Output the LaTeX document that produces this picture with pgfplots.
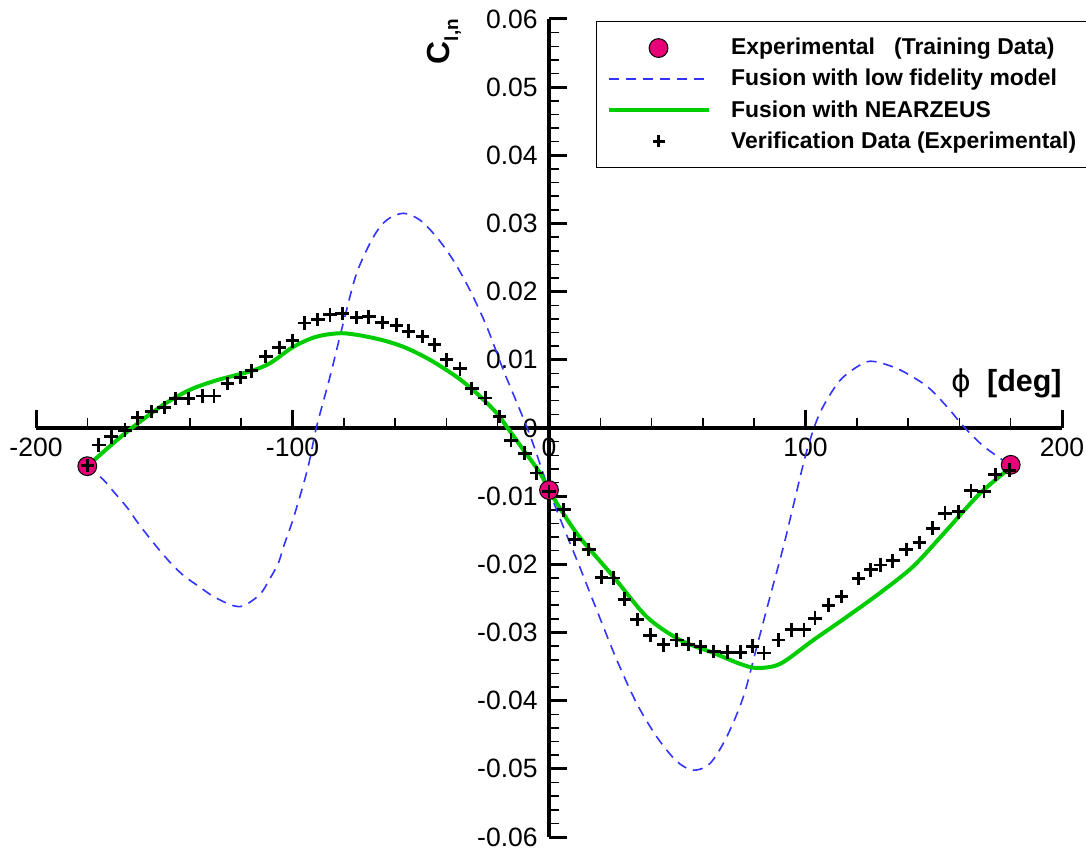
\documentclass[border=0pt]{standalone}
\usepackage{pgfplots}
\pgfplotsset{compat=1.18}
\usepackage{fontspec}
\setmainfont{Liberation Sans}
\newfontfamily\dejavu{DejaVu Sans}

\definecolor{trainpink}{RGB}{232,0,120}
\definecolor{fusgreen}{RGB}{0,204,0}
\definecolor{fusblue}{RGB}{51,51,255}

\pgfplotsset{
    leg line/.style={legend image code/.code={\draw[##1] (0bp,0bp) -- (50bp,0bp);}},
    leg mark/.style={legend image code/.code={\draw[##1] plot coordinates {(25bp,0bp)};}},
}

\begin{document}
\begin{tikzpicture}
\begin{axis}[
    name=ax,
    scale only axis,
    width=513bp, height=409bp,
    xmin=-200, xmax=200,
    ymin=-0.06, ymax=0.06,
    axis lines=middle,
    axis line style={-, line width=1.75bp},
    xtick={-200,-100,0,100,200},
    xticklabels={-200,-100,0,100,200},
    ytick={-0.06,-0.05,-0.04,-0.03,-0.02,-0.01,0,0.01,0.02,0.03,0.04,0.05,0.06},
    yticklabels={-0.06,-0.05,-0.04,-0.03,-0.02,-0.01,0,0.01,0.02,0.03,0.04,0.05,0.06},
    minor x tick num=4,
    minor y tick num=4,
    tick align=inside,
    major tick length=9bp,
    minor tick length=5bp,
    every major tick/.append style={line width=1.5bp, black},
    every minor tick/.append style={line width=0.75bp, black},
    hide obscured x ticks=false,
    hide obscured y ticks=false,
    ticklabel style={font=\fontsize{13.3}{16}\selectfont},
    xticklabel style={anchor=north, inner sep=0pt, yshift=-5bp},
    yticklabel style={anchor=east, inner sep=0pt, xshift=-5.5bp},
    clip=false,
    legend cell align=left,
    legend style={
        at={(axis cs:18.3,0.0597)}, anchor=north west,
        draw=black, line width=0.6bp, fill=white,
        font=\fontsize{11.5}{13}\selectfont\bfseries,
        inner xsep=5bp, inner ysep=7.5bp,
        row sep=4.15bp, column sep=9.5bp,
        nodes={inner sep=0.8bp},
    },
]

% legend entries first, curves drawn afterwards in the original stacking order
\addlegendimage{only marks, mark=*, mark size=4.7bp,
    mark options={fill=trainpink, draw=black, line width=0.5bp}, leg mark}
\addlegendentry{Experimental\ \ \ (Training Data)}
\addlegendimage{fusblue, line width=0.8bp, dash pattern=on 5bp off 3.5bp, leg line}
\addlegendentry{Fusion with low fidelity model}
\addlegendimage{fusgreen, line width=2bp, leg line}
\addlegendentry{Fusion with NEARZEUS}
\addlegendimage{only marks, mark=+, mark size=3bp, black, line width=1.4bp, leg mark}
\addlegendentry{Verification Data (Experimental)}

% low fidelity fusion
\addplot[forget plot, fusblue, line width=0.8bp, dash pattern=on 5bp off 3.5bp, smooth] coordinates {
    (-180,-0.0055) (-173.7,-0.0076) (-169.6,-0.0094) (-164.6,-0.0116) (-160.5,-0.0138)
    (-156.2,-0.0159) (-151.9,-0.0179) (-147.5,-0.0198) (-142.6,-0.0216) (-136.7,-0.0232)
    (-130.9,-0.0247) (-124.4,-0.0259) (-120.5,-0.0262) (-117.6,-0.0258) (-112.4,-0.0243)
    (-108.5,-0.0219) (-105.5,-0.0198) (-103.3,-0.0172) (-100.3,-0.0140) (-98.1,-0.0113)
    (-95.1,-0.0074) (-93.2,-0.0045) (-90.6,0.0002) (-85.4,0.0075) (-80.2,0.0154)
    (-75,0.0227) (-68.5,0.0280) (-63.3,0.0305) (-56.8,0.0315) (-50.3,0.0305)
    (-43.8,0.0280) (-37.3,0.0246) (-30.8,0.0202) (-24.3,0.0149) (-17.8,0.0085)
    (-11.3,0.0026) (-6.7,-0.0018) (0,-0.0091) (5.6,-0.0145) (12.1,-0.0205)
    (18.6,-0.0267) (26.4,-0.0340) (34.2,-0.0404) (42,-0.0453) (49.8,-0.0489)
    (56.3,-0.0502) (62.8,-0.0492) (69.3,-0.0453) (75.8,-0.0394) (81,-0.0321)
    (86.2,-0.0247) (91.4,-0.0174) (95.5,-0.0110) (100.4,-0.0035) (105.6,0.0022)
    (113.5,0.0070) (122.5,0.0095) (127.7,0.0097) (137,0.0085) (147.4,0.0061)
    (155.2,0.0031) (161.7,0.0002) (169.5,-0.0027) (180,-0.0055)
};

% NEARZEUS fusion
\addplot[forget plot, fusgreen, line width=2bp, smooth] coordinates {
    (-180,-0.0056) (-171,-0.0026) (-162,0.0002) (-150.4,0.0034) (-140,0.0056)
    (-129.6,0.0070) (-116.6,0.0083) (-108.8,0.0095) (-99.7,0.0119) (-90.6,0.0134)
    (-80.2,0.0139) (-67.2,0.0131) (-56.7,0.0119) (-46.4,0.0100) (-36,0.0075)
    (-28.2,0.0051) (-20.4,0.0022) (-16.5,0.0002) (-10,-0.0032) (-3.5,-0.0066)
    (0,-0.0091) (5,-0.0122) (12.1,-0.0161) (25.1,-0.0218) (38.1,-0.0277)
    (51.1,-0.0311) (64.1,-0.0330) (74.5,-0.0346) (81,-0.0352) (90.1,-0.0346)
    (103.1,-0.0311) (116.1,-0.0277) (129,-0.0242) (142,-0.0203) (155,-0.0150)
    (168,-0.0096) (180,-0.0058)
};

% training data
\addplot[forget plot, only marks, mark=*, mark size=4.7bp,
    mark options={fill=trainpink, draw=black, line width=0.5bp}] coordinates {
    (-180,-0.0056) (0,-0.0091) (180,-0.0054)
};

% verification data
\addplot[forget plot, only marks, mark=+, mark size=3.4bp, black, line width=1.45bp] coordinates {
    (-180,-0.0055) (-175.5,-0.0025) (-170.7,-0.0013) (-165.3,-0.0003) (-160.4,0.0015)
    (-154.9,0.0024) (-150.0,0.0030) (-145.5,0.0043) (-140.7,0.0043) (-135.1,0.0047)
    (-130.6,0.0047) (-125.4,0.0065) (-120.2,0.0074) (-116.0,0.0084) (-110.4,0.0105)
    (-105.2,0.0118) (-100.0,0.0128) (-95.3,0.0154) (-90.1,0.0159) (-85.4,0.0166)
    (-80.6,0.0168) (-75.0,0.0162) (-70.2,0.0163) (-65.0,0.0155) (-59.4,0.0151)
    (-54.8,0.0142) (-49.3,0.0134) (-44.7,0.0122) (-39.9,0.0100) (-34.7,0.0087)
    (-30.1,0.0058) (-24.9,0.0044) (-19.3,0.0017) (-14.8,-0.0018) (-9.4,-0.0037)
    (-4.8,-0.0066) (0,-0.0093) (5.8,-0.0120) (10.1,-0.0163) (15.5,-0.0178)
    (20.5,-0.0219) (25.1,-0.0220) (29.4,-0.0251) (34.4,-0.0281) (39.4,-0.0304)
    (44.6,-0.0318) (49.8,-0.0311) (54.3,-0.0317) (59.1,-0.0321) (64.3,-0.0328)
    (69.5,-0.0329) (74.7,-0.0329) (79.4,-0.0320) (83.8,-0.0330) (89.4,-0.0311)
    (94.6,-0.0296) (99.4,-0.0296) (103.7,-0.0279) (108.9,-0.0260) (114.1,-0.0247)
    (120.6,-0.0221) (125.5,-0.0208) (129.3,-0.0201) (134.0,-0.0195) (139.2,-0.0178)
    (144.4,-0.0168) (149.6,-0.0147) (154.4,-0.0125) (159.6,-0.0123) (164.5,-0.0092)
    (169.6,-0.0093) (173.9,-0.0068) (179.5,-0.0062)
};

% axis titles
\node[rotate=90, inner sep=0pt] at (axis cs:-40.9,0.0567)
    {\fontsize{16}{18}\selectfont\bfseries C\raisebox{-0.28em}{\fontsize{9.5}{10}\selectfont l,n}};
\node[anchor=east, inner sep=0pt] at (axis cs:200,0.0066)
    {{\dejavu\fontsize{15}{18}\selectfont ϕ}\hspace{8bp}{\fontsize{15.3}{18}\selectfont\bfseries [deg]}};

\end{axis}
\pgfresetboundingbox
\path ([shift={(-18bp,-6.5bp)}]ax.south west) rectangle ([shift={(12bp,9.5bp)}]ax.north east);
\end{tikzpicture}
\end{document}
